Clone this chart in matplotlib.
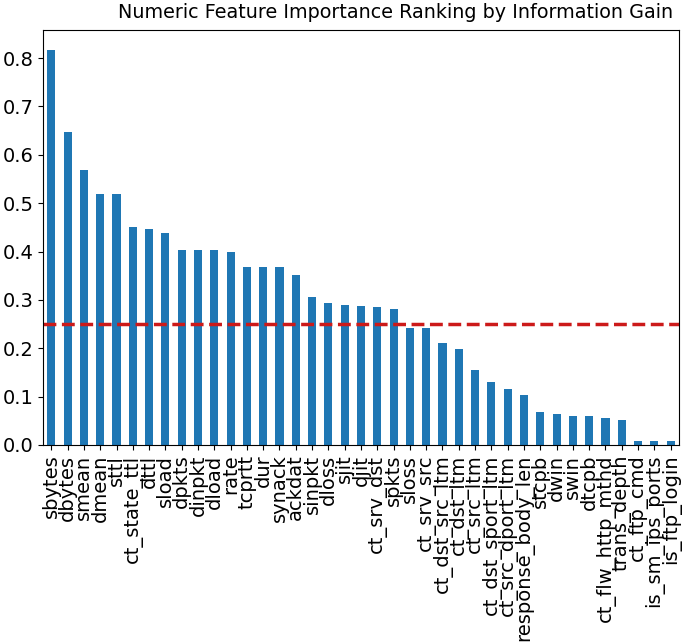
import matplotlib
matplotlib.use("Agg")
import matplotlib.pyplot as plt
import numpy as np

# feature names, ordered by information gain
features = [
    'sbytes', 'dbytes', 'smean', 'dmean', 'sttl', 'ct_state_ttl', 'dttl', 'sload',
    'dpkts', 'dinpkt', 'dload', 'rate', 'tcprtt', 'dur', 'synack', 'ackdat',
    'sinpkt', 'dloss', 'sjit', 'djit', 'ct_srv_dst', 'spkts', 'sloss', 'ct_srv_src',
    'ct_dst_src_ltm', 'ct_dst_ltm', 'ct_src_ltm', 'ct_dst_sport_ltm', 'ct_src_dport_ltm',
    'response_body_len', 'stcpb', 'dwin', 'swin', 'dtcpb', 'ct_flw_http_mthd',
    'trans_depth', 'ct_ftp_cmd', 'is_sm_ips_ports', 'is_ftp_login',
]
info_gain = [
    0.817, 0.647, 0.568, 0.518, 0.518, 0.451, 0.447, 0.439,
    0.404, 0.404, 0.404, 0.399, 0.368, 0.368, 0.368, 0.352,
    0.305, 0.293, 0.289, 0.288, 0.285, 0.281, 0.242, 0.242,
    0.210, 0.198, 0.155, 0.131, 0.115,
    0.104, 0.068, 0.064, 0.060, 0.060, 0.056,
    0.052, 0.009, 0.009, 0.009,
]
threshold = 0.25

fig = plt.figure(figsize=(6.85, 6.42), dpi=100)
ax = fig.add_axes([0.063, 0.307, 0.928, 0.646])

x = np.arange(len(features))
ax.bar(x, info_gain, width=0.5, color='#1f77b4')
ax.axhline(threshold, color='#cc1a1a', linestyle='--', linewidth=2.5)

ax.set_xlim(-0.5, len(features) - 0.5)
ax.set_ylim(0, max(info_gain) * 1.05)
ax.set_xticks(x)
ax.set_xticklabels(features, rotation=90, fontsize=14)
ax.set_yticks(np.arange(0, 0.81, 0.1))
ax.tick_params(axis='y', labelsize=14)
ax.set_title('Numeric Feature Importance Ranking by Information Gain',
             fontsize=13.8, x=0.555, pad=9)

fig.savefig('out.png', dpi=100)
